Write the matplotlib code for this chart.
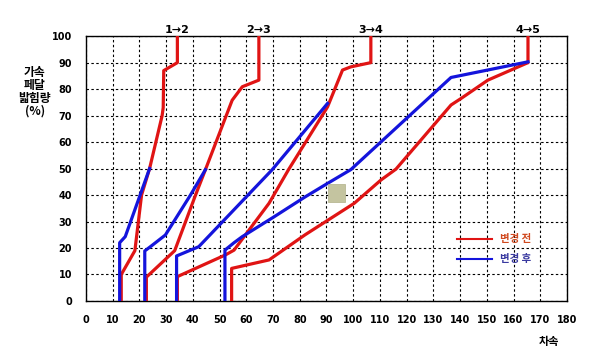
import numpy as np
import matplotlib
matplotlib.use('Agg')
import matplotlib.pyplot as plt
from matplotlib.patches import Rectangle

plt.rcParams['font.family'] = ['Noto Sans CJK KR', 'DejaVu Sans']

# 변경 전 (red), one curve per shift
before_12_x = [13.2, 13.2, 18.3, 20.8, 23.8, 28.5, 28.9, 29.1, 34.2, 34.2]
before_12_y = [0, 10, 19, 40, 50, 70, 73, 87, 90, 100]
before_23_x = [22.6, 22.6, 33.2, 41.0, 44.7, 54.7, 58.5, 64.7, 64.7]
before_23_y = [0, 9, 19, 40, 49.6, 75.8, 80.9, 83.4, 100]
before_34_x = [34.2, 34.2, 52.2, 55.4, 68.5, 75.8, 90.4, 96.0, 99.1, 106.6, 106.6]
before_34_y = [0, 9.2, 17.4, 19.2, 36.9, 49.6, 73.3, 87.2, 88.4, 90, 100]
before_45_x = [54.5, 54.5, 68.5, 82.0, 100.4, 110.4, 116.0, 136.6, 140.4, 150.4, 165.4, 165.4]
before_45_y = [0, 12.3, 15.5, 25.0, 36.9, 45.7, 49.8, 74.0, 76.5, 83.4, 90, 100]

# 변경 후 (blue)
after_12_x = [12.6, 12.6, 14.7, 23.8]
after_12_y = [0, 22, 24.3, 50]
after_23_x = [22.0, 22.0, 24.1, 29.7, 39.1, 44.7]
after_23_y = [0, 18.9, 20.5, 24.9, 40, 49.6]
after_34_x = [33.9, 33.9, 42.2, 69.7, 90.4]
after_34_y = [0, 17, 20.5, 49.6, 74.6]
after_45_x = [52.0, 52.0, 55.4, 58.5, 70.4, 82.0, 90.4, 99.1, 136.6, 165.4]
after_45_y = [0, 19.2, 22, 24.3, 31.8, 39.3, 44.4, 49.6, 84.4, 90.3]

shift_labels = ['1→2', '2→3', '3→4', '4→5']

red = '#e01414'
blue = '#1414dc'

fig = plt.figure(figsize=(6, 3.51), dpi=100)
ax = fig.add_axes([0.1433, 0.1425, 0.8017, 0.7545])

befores = [(before_12_x, before_12_y), (before_23_x, before_23_y),
           (before_34_x, before_34_y), (before_45_x, before_45_y)]
afters = [(after_12_x, after_12_y), (after_23_x, after_23_y),
          (after_34_x, after_34_y), (after_45_x, after_45_y)]

for bx, by in befores:
    ax.plot(bx, by, color=red, lw=2.3, solid_joinstyle='round', zorder=3)
for axx, ayy in afters:
    ax.plot(axx, ayy, color=blue, lw=2.3, solid_joinstyle='round', zorder=4)

# top labels over the end of each red curve
for (bx, by), lab in zip(befores, shift_labels):
    ax.text(bx[-1], 102.5, lab, ha='center', va='center', fontsize=8,
            fontweight='bold', family='DejaVu Sans', clip_on=False)

# the little beige block in the middle of the plot
ax.add_patch(Rectangle((90.5, 37.5), 6.3, 6.5, facecolor='#c4c4a0',
                       edgecolor='#b0b088', lw=0.5, zorder=5))

ax.set_xlim(0, 180)
ax.set_ylim(0, 100)
ax.set_xticks(np.arange(0, 181, 10))
ax.set_yticks(np.arange(0, 101, 10))
ax.grid(True, color='black', linestyle=(0, (2.2, 2.2)), lw=0.8)
ax.tick_params(length=0, pad=10, labelsize=7)
for t in ax.get_xticklabels() + ax.get_yticklabels():
    t.set_fontweight('bold')
    t.set_family('DejaVu Sans')
for s in ax.spines.values():
    s.set_linewidth(1.0)

# legend drawn by hand (no frame)
ax.plot([139, 152], [23.5, 23.5], color=red, lw=1.5, clip_on=False)
ax.text(155, 23.5, '변경 전', color='#d04a20', fontsize=7.5, fontweight='bold', va='center')
ax.plot([139, 152], [15.7, 15.7], color=blue, lw=1.5, clip_on=False)
ax.text(155, 15.7, '변경 후', color='#3a3aa0', fontsize=7.5, fontweight='bold', va='center')

fig.text(0.915, 0.027, '차속', fontsize=8, fontweight='bold', ha='center', va='center')
fig.text(0.058, 0.738, '가속\n페달\n밟힘량\n(%)', fontsize=8.5, fontweight='bold',
         ha='center', va='center', linespacing=1.0)

fig.savefig('out.png', dpi=100)
